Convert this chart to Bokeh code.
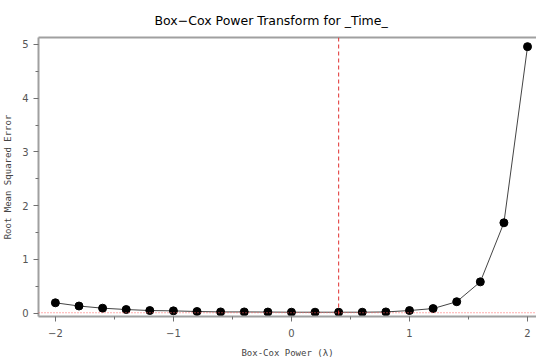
from bokeh.plotting import figure
from bokeh.models import Range1d, LinearAxis, Span, FixedTicker
from bokeh.embed import file_html
from bokeh.resources import INLINE

lambdas = [-2.0, -1.8, -1.6, -1.4, -1.2, -1.0, -0.8, -0.6, -0.4, -0.2, 0.0,
           0.2, 0.4, 0.6, 0.8, 1.0, 1.2, 1.4, 1.6, 1.8, 2.0]
rmse = [0.19, 0.13, 0.09, 0.065, 0.046, 0.04, 0.028, 0.02, 0.02, 0.018, 0.015,
        0.015, 0.015, 0.015, 0.02, 0.046, 0.083, 0.21, 0.58, 1.68, 4.96]
best_lambda = 0.4
min_rmse = 0.005
x_ticks = [-2, -1, 0, 1, 2]
y_ticks = [0, 1, 2, 3, 4, 5]

p = figure(width=536, height=360, output_backend="svg", toolbar_location=None,
           x_range=Range1d(-2.143, 2.076), y_range=Range1d(-0.065, 5.13),
           min_border_left=36, min_border_right=0, min_border_top=36, min_border_bottom=43,
           background_fill_color="white", border_fill_color="white")
p.outline_line_color = None
p.grid.visible = False

p.title.text = "Box\u2212Cox Power Transform for _Time_"
p.title.align = "left"
p.title.offset = 116
p.title.text_font = "DejaVu Sans"
p.title.text_font_size = "12.5px"
p.title.text_font_style = "normal"
p.title.text_color = "#000000"
p.title.standoff = 20

axis_color = "#a0a0a0"
for ax in (p.xaxis[0], p.yaxis[0]):
    ax.axis_line_color = axis_color
    ax.axis_line_width = 2
    ax.major_tick_line_color = "#707070"
    ax.minor_tick_line_color = "#707070"
    ax.major_tick_out = 5
    ax.major_tick_in = 0
    ax.minor_tick_out = 3
    ax.minor_tick_in = 0
    ax.major_label_text_font = "DejaVu Sans"
    ax.major_label_text_font_size = "10px"
    ax.major_label_text_color = "#555555"
    ax.axis_label_text_font = "DejaVu Sans Mono"
    ax.axis_label_text_font_size = "9px"
    ax.axis_label_text_font_style = "normal"
    ax.axis_label_text_color = "#444444"

p.xaxis[0].ticker = FixedTicker(ticks=x_ticks, minor_ticks=[-1.5, -0.5, 0.5, 1.5])
p.yaxis[0].ticker = FixedTicker(ticks=y_ticks, minor_ticks=[0.5, 1.5, 2.5, 3.5, 4.5])
p.xaxis[0].major_label_overrides = {-2: "\u22122", -1: "\u22121"}
p.xaxis[0].axis_label = "Box-Cox Power (\u03bb)"
p.yaxis[0].axis_label = "Root Mean Squared Error"
p.xaxis[0].major_label_standoff = 7
p.xaxis[0].axis_label_standoff = 8
p.yaxis[0].major_label_standoff = 5
p.yaxis[0].axis_label_standoff = 6

top = LinearAxis(ticker=FixedTicker(ticks=[], minor_ticks=[]),
                 major_tick_line_color=None, minor_tick_line_color=None,
                 axis_line_color=axis_color, axis_line_width=2)
p.add_layout(top, "above")

p.add_layout(Span(location=best_lambda, dimension="height", line_color="#e03030",
                  line_dash="4 3", line_width=1))
p.add_layout(Span(location=min_rmse, dimension="width", line_color="#ff6060",
                  line_dash="1 2", line_width=1))

p.line(lambdas, rmse, line_color="#444444", line_width=1)
p.scatter(lambdas, rmse, size=8, fill_color="black", line_color="black")

open("out.html", "w").write(file_html(p, INLINE))
